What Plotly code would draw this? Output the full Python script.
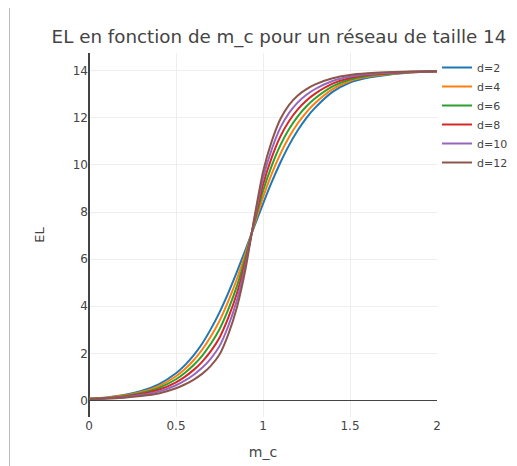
import plotly.graph_objects as go

m_c = [0, 0.1, 0.2, 0.3, 0.4, 0.5, 0.55, 0.6, 0.65, 0.7, 0.75, 0.8, 0.85, 0.9, 0.95,
       1.0, 1.05, 1.1, 1.15, 1.2, 1.25, 1.3, 1.4, 1.5, 1.6, 1.7, 1.8, 1.9, 2.0]

el_d2 = [0.08, 0.13, 0.23, 0.40, 0.685, 1.156, 1.49, 1.905, 2.41, 3.03, 3.74, 4.56, 5.46, 6.41, 7.39,
         8.35, 9.27, 10.10, 10.84, 11.47, 12.0, 12.43, 13.1, 13.5, 13.7, 13.81, 13.89, 13.94, 13.97]
el_d4 = [0.075, 0.12, 0.208, 0.358, 0.608, 1.029, 1.328, 1.70, 2.154, 2.718, 3.382, 4.208, 5.158, 6.248, 7.462,
         8.62, 9.616, 10.47, 11.182, 11.766, 12.244, 12.628, 13.216, 13.564, 13.738, 13.834, 13.902, 13.946, 13.972]
el_d6 = [0.07, 0.11, 0.186, 0.316, 0.531, 0.902, 1.166, 1.495, 1.898, 2.406, 3.024, 3.856, 4.856, 6.086, 7.534,
         8.89, 9.962, 10.84, 11.524, 12.062, 12.488, 12.826, 13.332, 13.628, 13.776, 13.858, 13.914, 13.952, 13.974]
el_d8 = [0.068, 0.10, 0.164, 0.274, 0.454, 0.774, 1.004, 1.29, 1.642, 2.094, 2.666, 3.504, 4.554, 5.924, 7.606,
         9.16, 10.308, 11.21, 11.866, 12.358, 12.732, 13.024, 13.448, 13.692, 13.814, 13.882, 13.926, 13.958, 13.976]
el_d10 = [0.064, 0.09, 0.142, 0.232, 0.377, 0.647, 0.842, 1.085, 1.386, 1.782, 2.308, 3.152, 4.252, 5.762, 7.678,
          9.43, 10.654, 11.58, 12.208, 12.654, 12.976, 13.222, 13.564, 13.756, 13.852, 13.906, 13.938, 13.964, 13.978]
el_d12 = [0.06, 0.08, 0.12, 0.19, 0.30, 0.52, 0.68, 0.88, 1.13, 1.47, 1.95, 2.8, 3.95, 5.6, 7.75,
          9.7, 11.0, 11.95, 12.55, 12.95, 13.22, 13.42, 13.68, 13.82, 13.89, 13.93, 13.95, 13.97, 13.98]

names = ["d=2", "d=4", "d=6", "d=8", "d=10", "d=12"]
series = [el_d2, el_d4, el_d6, el_d8, el_d10, el_d12]
colors = ["#1f77b4", "#ff7f0e", "#2ca02c", "#d62728", "#9467bd", "#8c564b"]

fig = go.Figure()
for name, ys, col in zip(names, series, colors):
    fig.add_trace(go.Scatter(x=m_c, y=ys, mode="lines", name=name,
                             line=dict(color=col, width=2, shape="spline", smoothing=0.6)))

W, H = 509, 458  # page body adds an 8px offset
fig.update_layout(
    width=W, height=H,
    margin=dict(l=81, r=W - 81 - 348, t=45, b=49, autoexpand=False),
    paper_bgcolor="white", plot_bgcolor="white",
    font=dict(family="DejaVu Sans, Verdana, sans-serif", size=12, color="#444"),
    title=dict(text="EL en fonction de m_c pour un réseau de taille 14",
               x=(279 - 8) / W, xref="container", xanchor="center",
               y=1 - 29 / H, yref="container", yanchor="middle",
               font=dict(size=18.3, color="#444")),
    xaxis=dict(title=dict(text="m_c", font=dict(size=14), standoff=15), range=[0, 2],
               tickvals=[0, 0.5, 1, 1.5, 2], ticktext=["0", "0.5", "1", "1.5", "2"],
               showgrid=True, gridcolor="#eee", zeroline=True, zerolinecolor="#444",
               zerolinewidth=2, ticks="", automargin=False),
    yaxis=dict(title=dict(text="EL", font=dict(size=13), standoff=25), range=[-0.7, 14.75],
               tickvals=[0, 2, 4, 6, 8, 10, 12, 14],
               showgrid=True, gridcolor="#eee", zeroline=True, zerolinecolor="#444",
               zerolinewidth=1, ticks="", automargin=False),
    legend=dict(font=dict(size=11), x=1.0, y=1, xanchor="left", yanchor="top",
                tracegroupgap=0, itemwidth=30),
    shapes=[dict(type="line", xref="paper", yref="paper",
                 x0=(9.5 - 89) / 348, x1=(9.5 - 89) / 348, y0=-0.2, y1=1.2,
                 line=dict(color="#bbb", width=1))],
)

fig.write_html("out.html")
